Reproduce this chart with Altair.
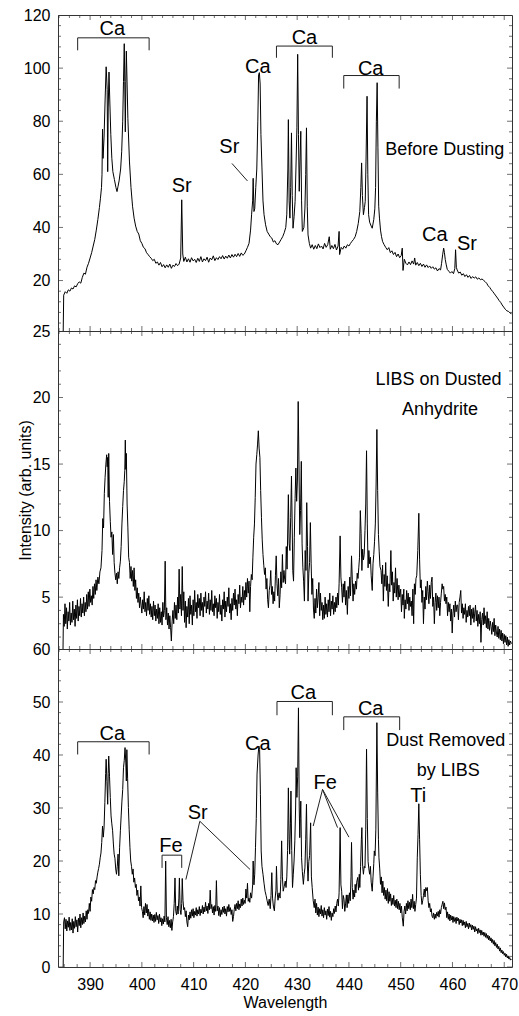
import altair as alt
import pandas as pd

FONT = "Liberation Sans"
AXC = "#333333"
W = 454
H_TOP, H_MID, H_BOT = 316, 318, 318
XDOM = [383.8, 471.5]

# ---------------- spectra (wavelength nm, intensity) ----------------
TOP = [
    (384.80, 0), (384.90, 14.5), (385.2, 15.8), (385.5, 15.2), (385.8, 16.5), (386.1, 16.0), (386.4, 17.2),
    (386.7, 16.8), (387.0, 18.0), (387.3, 17.6), (387.6, 18.8), (387.9, 19.5), (388.2, 19.0), (388.5, 21.2),
    (388.8, 22.8), (389.1, 22.4), (389.4, 25.0), (389.7, 26.5), (390.0, 28.5), (390.3, 30.5), (390.6, 33.0),
    (390.9, 35.5), (391.2, 39.0), (391.5, 43.0), (391.8, 47.5), (392.0, 51.0), (392.2, 55.0), (392.3, 60.0),
    (392.4, 77.0), (392.5, 66.0), (392.7, 74.0), (392.9, 88.0), (393.1, 100.5), (393.3, 92.0), (393.4, 61.0),
    (393.5, 85.0), (393.65, 98.5), (393.8, 88.0), (394.0, 75.0), (394.2, 66.0), (394.4, 61.0), (394.7, 58.0),
    (395.0, 55.0), (395.2, 53.5), (395.4, 55.5), (395.6, 57.5), (395.9, 62.0), (396.1, 68.5), (396.3, 80.0),
    (396.45, 95.0), (396.6, 109.2), (396.7, 95.0), (396.8, 76.0), (396.9, 95.0), (397.0, 106.4), (397.15, 94.0),
    (397.3, 81.0), (397.6, 65.0), (397.9, 55.0), (398.2, 48.0), (398.5, 43.5), (398.8, 40.5), (399.1, 38.5),
    (399.4, 37.5), (399.7, 35.0), (400.0, 34.0), (400.3, 32.5), (400.6, 32.0), (400.9, 30.5), (401.2, 29.8),
    (401.5, 29.0), (401.8, 28.4), (402.1, 27.5), (402.4, 28.0), (402.7, 26.5), (403.0, 27.0), (403.3, 25.8),
    (403.6, 26.8), (403.9, 25.2), (404.2, 26.0), (404.5, 24.8), (404.8, 25.9), (405.1, 25.0), (405.4, 26.2),
    (405.7, 24.6), (406.0, 25.8), (406.3, 25.3), (406.6, 26.4), (406.9, 25.6), (407.2, 26.2), (407.5, 28.5),
    (407.7, 50.4), (407.9, 30.0), (408.1, 27.2), (408.4, 28.8), (408.7, 27.0), (409.0, 28.2), (409.3, 26.9),
    (409.6, 28.6), (409.9, 27.4), (410.2, 28.0), (410.5, 26.8), (410.8, 28.4), (411.1, 27.2), (411.4, 29.0),
    (411.7, 27.0), (412.0, 28.2), (412.3, 27.5), (412.6, 28.8), (412.9, 26.9), (413.2, 28.5), (413.5, 27.8),
    (413.8, 29.3), (414.1, 27.5), (414.4, 28.6), (414.7, 27.9), (415.0, 29.0), (415.3, 28.2), (415.6, 29.4),
    (415.9, 28.1), (416.2, 29.2), (416.5, 28.4), (416.8, 29.6), (417.1, 28.5), (417.4, 29.8), (417.7, 28.8),
    (418.0, 29.9), (418.3, 29.0), (418.6, 30.2), (418.9, 29.1), (419.2, 30.4), (419.5, 29.5), (419.8, 30.0),
    (420.1, 31.2), (420.4, 32.5), (420.7, 34.0), (421.0, 39.0), (421.2, 45.0), (421.4, 50.0), (421.5, 58.5),
    (421.65, 46.0), (421.8, 47.0), (422.0, 55.0), (422.2, 62.0), (422.4, 80.0), (422.55, 97.6), (422.7, 98.3),
    (422.85, 94.0), (423.0, 75.0), (423.2, 62.4), (423.4, 50.0), (423.6, 44.8), (423.9, 41.0), (424.2, 38.5),
    (424.5, 37.5), (424.8, 36.5), (425.1, 36.0), (425.4, 34.5), (425.7, 35.0), (426.0, 33.8), (426.3, 33.5),
    (426.6, 34.5), (426.9, 35.5), (427.2, 36.5), (427.5, 38.0), (427.8, 40.0), (428.0, 45.0), (428.2, 62.0),
    (428.3, 80.6), (428.45, 50.0), (428.6, 43.5), (428.75, 55.0), (428.9, 75.6), (429.05, 52.0), (429.2, 39.7),
    (429.4, 44.0), (429.6, 49.8), (429.8, 65.0), (429.95, 77.5), (430.1, 105.2), (430.25, 75.0), (430.4, 53.6),
    (430.55, 65.0), (430.7, 76.2), (430.85, 50.0), (431.0, 38.5), (431.3, 40.0), (431.5, 47.3), (431.65, 60.0),
    (431.8, 77.5), (431.95, 48.0), (432.1, 37.2), (432.35, 34.0), (432.6, 32.2), (432.9, 33.5), (433.2, 31.8),
    (433.5, 33.2), (433.8, 32.0), (434.1, 33.8), (434.4, 32.4), (434.7, 33.0), (435.0, 31.9), (435.3, 34.0),
    (435.6, 32.5), (435.9, 33.5), (436.2, 36.5), (436.4, 31.8), (436.7, 33.2), (437.0, 32.0), (437.3, 33.6),
    (437.6, 31.5), (437.9, 33.0), (438.1, 38.5), (438.2, 29.8), (438.5, 32.5), (438.8, 31.8), (439.1, 33.0),
    (439.4, 32.2), (439.7, 33.5), (440.0, 33.0), (440.3, 34.0), (440.6, 34.8), (440.9, 35.5), (441.2, 36.5),
    (441.5, 38.5), (441.8, 41.5), (442.1, 46.0), (442.3, 55.0), (442.45, 64.3), (442.6, 52.0), (442.8, 44.8),
    (443.0, 47.5), (443.15, 49.8), (443.3, 65.0), (443.5, 89.4), (443.65, 60.0), (443.8, 44.8), (444.0, 42.0),
    (444.3, 40.5), (444.5, 39.7), (444.8, 43.0), (445.0, 47.0), (445.15, 55.0), (445.3, 80.0), (445.45, 94.5),
    (445.6, 70.0), (445.75, 48.0), (445.9, 43.5), (446.1, 39.0), (446.3, 36.5), (446.5, 34.7), (446.8, 33.5),
    (447.1, 32.5), (447.4, 31.6), (447.7, 32.4), (448.0, 30.5), (448.3, 31.2), (448.6, 29.8), (448.9, 30.6),
    (449.2, 29.0), (449.5, 30.0), (449.8, 28.6), (450.1, 29.4), (450.3, 32.2), (450.45, 23.8), (450.7, 28.0),
    (451.0, 26.5), (451.3, 25.9), (451.6, 27.0), (451.9, 26.0), (452.2, 27.4), (452.5, 26.2), (452.7, 28.5),
    (452.9, 25.8), (453.2, 26.8), (453.5, 25.6), (453.8, 26.5), (454.1, 25.3), (454.4, 26.2), (454.7, 25.0),
    (455.0, 25.9), (455.3, 24.9), (455.6, 25.5), (455.9, 24.6), (456.2, 25.2), (456.5, 24.3), (456.8, 24.8),
    (457.1, 23.6), (457.4, 24.5), (457.7, 24.0), (457.9, 26.5), (458.1, 29.7), (458.3, 32.2), (458.45, 30.5),
    (458.6, 28.0), (458.8, 25.9), (459.0, 24.2), (459.3, 23.5), (459.6, 22.8), (459.9, 23.4), (460.2, 22.6),
    (460.45, 24.5), (460.6, 31.6), (460.75, 25.0), (460.9, 24.0), (461.2, 22.8), (461.5, 23.2), (461.8, 22.0),
    (462.1, 22.6), (462.4, 21.5), (462.7, 22.2), (463.0, 21.2), (463.3, 21.9), (463.6, 20.8), (463.9, 21.5),
    (464.2, 20.9), (464.5, 21.4), (464.8, 20.5), (465.1, 21.0), (465.4, 20.3), (465.7, 20.6), (466.0, 20.1),
    (466.3, 19.6), (466.6, 19.0), (466.9, 18.0), (467.2, 17.4), (467.5, 16.5), (467.8, 15.8), (468.1, 15.0),
    (468.4, 14.2), (468.7, 13.4), (469.0, 12.5), (469.3, 11.8), (469.6, 10.8), (469.9, 10.0), (470.2, 9.2),
    (470.5, 8.6), (470.8, 8.4), (471.1, 7.8), (471.4, 7.5),
]

MID = [
    (384.75, 0.5), (384.85, 3.7), (385.0, 2.8), (385.15, 4.5), (385.3, 3.0), (385.45, 4.2), (385.6, 2.6),
    (385.75, 3.9), (385.9, 3.2), (386.05, 4.6), (386.2, 2.9), (386.35, 3.8), (386.5, 3.1), (386.65, 4.7),
    (386.8, 3.3), (386.95, 4.1), (387.1, 2.8), (387.25, 4.4), (387.4, 3.4), (387.55, 4.8), (387.7, 3.2),
    (387.85, 4.3), (388.0, 3.6), (388.15, 4.9), (388.3, 3.5), (388.45, 4.5), (388.6, 3.8), (388.75, 5.0),
    (388.9, 3.6), (389.05, 4.6), (389.2, 3.9), (389.35, 5.2), (389.5, 4.1), (389.65, 5.4), (389.8, 4.3),
    (389.95, 5.6), (390.1, 4.6), (390.25, 5.1), (390.4, 4.4), (390.55, 5.8), (390.7, 4.9), (390.85, 6.0),
    (391.0, 5.2), (391.15, 6.3), (391.3, 5.5), (391.5, 6.5), (391.7, 6.0), (391.9, 6.9), (392.1, 7.2),
    (392.3, 8.5), (392.45, 10.9), (392.6, 10.2), (392.75, 12.8), (392.9, 14.0), (393.05, 15.0), (393.2, 15.7),
    (393.3, 14.8), (393.4, 15.5), (393.5, 12.5), (393.6, 15.8), (393.75, 12.2), (393.9, 10.7), (394.05, 9.5),
    (394.2, 9.9), (394.35, 8.2), (394.5, 9.7), (394.65, 7.6), (394.8, 6.8), (394.95, 6.3), (395.1, 6.8),
    (395.25, 6.0), (395.4, 6.9), (395.55, 6.4), (395.7, 7.2), (395.85, 7.7), (396.0, 8.8), (396.15, 10.5),
    (396.3, 11.8), (396.45, 13.0), (396.6, 13.7), (396.7, 14.5), (396.8, 16.8), (396.9, 14.6), (397.0, 15.8),
    (397.15, 12.0), (397.3, 10.2), (397.45, 8.0), (397.6, 7.6), (397.75, 6.4), (397.9, 7.3), (398.05, 6.2),
    (398.2, 7.0), (398.35, 5.8), (398.5, 7.2), (398.65, 5.5), (398.8, 6.3), (398.95, 4.9), (399.1, 5.7),
    (399.25, 4.6), (399.4, 5.3), (399.55, 4.2), (399.7, 5.0), (399.85, 4.4), (400.0, 3.8), (400.15, 4.8),
    (400.3, 4.1), (400.45, 5.4), (400.6, 3.9), (400.75, 4.6), (400.9, 3.6), (401.05, 4.9), (401.2, 4.0),
    (401.35, 5.1), (401.5, 3.7), (401.65, 4.5), (401.8, 3.5), (401.95, 4.3), (402.1, 3.3), (402.25, 4.7),
    (402.4, 3.6), (402.55, 4.4), (402.7, 3.2), (402.85, 4.1), (403.0, 3.4), (403.15, 4.5), (403.3, 3.0),
    (403.45, 4.2), (403.6, 3.1), (403.75, 3.9), (403.9, 2.9), (404.05, 4.6), (404.2, 3.5), (404.35, 4.0),
    (404.5, 7.7), (404.65, 3.3), (404.8, 4.2), (404.95, 2.9), (405.1, 3.8), (405.25, 2.6), (405.4, 3.6),
    (405.55, 2.7), (405.7, 1.7), (405.85, 3.2), (406.0, 4.0), (406.15, 3.0), (406.3, 4.6), (406.45, 3.4),
    (406.6, 4.4), (406.75, 3.3), (406.9, 5.0), (407.05, 3.8), (407.2, 7.1), (407.35, 4.1), (407.5, 5.2),
    (407.65, 3.6), (407.8, 7.3), (407.95, 4.0), (408.1, 5.4), (408.25, 3.1), (408.4, 4.7), (408.55, 2.7),
    (408.7, 4.3), (408.85, 3.5), (409.0, 4.9), (409.15, 3.0), (409.3, 5.1), (409.45, 3.7), (409.6, 4.4),
    (409.75, 2.9), (409.9, 4.8), (410.05, 3.6), (410.2, 5.5), (410.35, 3.9), (410.5, 4.6), (410.65, 3.4),
    (410.8, 5.2), (410.95, 4.2), (411.1, 4.9), (411.25, 3.6), (411.4, 5.3), (411.55, 4.0), (411.7, 4.6),
    (411.85, 3.5), (412.0, 5.0), (412.15, 4.3), (412.3, 5.4), (412.45, 3.8), (412.6, 4.7), (412.75, 4.1),
    (412.9, 5.3), (413.05, 3.7), (413.2, 4.8), (413.35, 4.0), (413.5, 5.5), (413.65, 3.9), (413.8, 4.5),
    (413.95, 3.6), (414.1, 5.1), (414.25, 4.2), (414.4, 4.9), (414.55, 3.4), (414.7, 4.6), (414.85, 3.9),
    (415.0, 5.2), (415.15, 3.7), (415.3, 4.4), (415.45, 3.2), (415.6, 4.8), (415.75, 4.1), (415.9, 5.4),
    (416.05, 3.5), (416.2, 4.7), (416.35, 3.9), (416.5, 5.0), (416.65, 4.3), (416.8, 5.7), (416.95, 3.8),
    (417.1, 4.5), (417.25, 3.3), (417.4, 4.9), (417.55, 4.0), (417.7, 5.3), (417.85, 4.4), (418.0, 5.6),
    (418.15, 4.1), (418.3, 4.8), (418.45, 3.6), (418.6, 5.2), (418.75, 4.5), (418.9, 5.9), (419.05, 4.2),
    (419.2, 5.0), (419.35, 4.6), (419.5, 5.8), (419.65, 4.4), (419.8, 5.5), (419.95, 4.8), (420.1, 6.1),
    (420.25, 5.0), (420.4, 6.4), (420.55, 5.3), (420.7, 6.2), (420.85, 3.9), (421.0, 5.8), (421.15, 6.7),
    (421.3, 6.3), (421.45, 8.0), (421.6, 9.5), (421.75, 10.5), (421.9, 12.5), (422.05, 15.0), (422.2, 15.7),
    (422.35, 16.5), (422.5, 17.5), (422.65, 16.2), (422.8, 15.5), (422.95, 13.0), (423.1, 11.0), (423.25, 9.3),
    (423.4, 8.2), (423.55, 7.4), (423.7, 6.7), (423.85, 7.2), (424.0, 5.6), (424.15, 6.4), (424.3, 4.8),
    (424.45, 4.2), (424.6, 5.5), (424.75, 5.9), (424.9, 7.0), (425.05, 5.2), (425.2, 5.8), (425.35, 4.5),
    (425.5, 5.4), (425.65, 4.7), (425.8, 6.6), (425.95, 8.1), (426.1, 6.0), (426.25, 5.1), (426.4, 6.4),
    (426.55, 4.2), (426.7, 5.2), (426.85, 6.9), (427.0, 5.7), (427.15, 8.2), (427.3, 6.1), (427.45, 7.0),
    (427.6, 6.3), (427.75, 6.0), (427.9, 8.8), (428.05, 7.1), (428.2, 10.5), (428.3, 12.7), (428.45, 9.0),
    (428.6, 8.5), (428.75, 11.0), (428.9, 14.1), (429.05, 10.2), (429.15, 7.0), (429.3, 6.2), (429.45, 9.5),
    (429.6, 12.4), (429.75, 14.7), (429.9, 12.2), (430.05, 13.8), (430.2, 19.7), (430.35, 15.0), (430.5, 9.7),
    (430.65, 11.5), (430.8, 15.2), (430.95, 9.0), (431.1, 7.2), (431.25, 6.2), (431.4, 4.7), (431.55, 8.5),
    (431.7, 7.0), (431.85, 12.1), (432.0, 8.8), (432.1, 4.7), (432.25, 6.8), (432.4, 7.6), (432.55, 10.6),
    (432.7, 7.5), (432.85, 5.2), (433.0, 6.4), (433.15, 4.1), (433.3, 3.4), (433.45, 4.9), (433.6, 3.8),
    (433.75, 5.6), (433.9, 4.2), (434.05, 5.0), (434.2, 6.1), (434.35, 3.6), (434.5, 5.3), (434.65, 4.0),
    (434.8, 4.6), (434.95, 3.3), (435.1, 4.4), (435.25, 3.4), (435.4, 5.0), (435.55, 3.7), (435.7, 4.5),
    (435.85, 3.5), (436.0, 4.8), (436.15, 3.9), (436.3, 5.3), (436.45, 3.6), (436.6, 4.7), (436.75, 4.1),
    (436.9, 5.1), (437.05, 3.7), (437.2, 4.6), (437.35, 3.9), (437.5, 5.0), (437.65, 4.2), (437.8, 5.3),
    (437.95, 4.4), (438.1, 6.0), (438.3, 9.6), (438.45, 6.5), (438.6, 5.7), (438.75, 4.6), (438.9, 6.0),
    (439.05, 5.0), (439.2, 6.2), (439.35, 4.4), (439.5, 5.5), (439.7, 3.7), (439.85, 5.8), (440.0, 4.9),
    (440.15, 6.5), (440.3, 5.1), (440.5, 8.1), (440.65, 6.3), (440.8, 4.7), (440.95, 6.0), (441.1, 5.2),
    (441.3, 6.2), (441.45, 5.6), (441.6, 6.8), (441.75, 6.4), (441.9, 7.2), (442.05, 8.0), (442.2, 11.5),
    (442.35, 9.8), (442.5, 7.0), (442.65, 8.6), (442.8, 7.8), (442.95, 8.2), (443.1, 10.0), (443.25, 12.0),
    (443.4, 16.0), (443.55, 10.5), (443.7, 7.2), (443.85, 8.5), (444.0, 7.5), (444.15, 8.0), (444.3, 6.6),
    (444.5, 5.5), (444.65, 7.5), (444.8, 8.2), (444.95, 9.2), (445.1, 10.5), (445.25, 13.5), (445.4, 17.6),
    (445.55, 13.0), (445.7, 9.7), (445.85, 8.4), (446.0, 7.3), (446.2, 7.0), (446.35, 6.0), (446.5, 7.4),
    (446.65, 4.7), (446.8, 6.7), (446.95, 5.8), (447.1, 7.6), (447.25, 5.5), (447.4, 6.6), (447.6, 4.3),
    (447.75, 6.0), (447.9, 5.4), (448.1, 8.5), (448.25, 5.9), (448.4, 6.9), (448.55, 4.7), (448.7, 6.1),
    (448.85, 5.3), (449.0, 7.2), (449.15, 5.0), (449.3, 6.4), (449.5, 4.8), (449.65, 5.9), (449.8, 5.0),
    (450.0, 5.6), (450.15, 3.9), (450.3, 5.2), (450.45, 4.4), (450.6, 5.6), (450.7, 3.4), (450.85, 4.8),
    (451.0, 4.1), (451.15, 5.5), (451.3, 4.5), (451.45, 5.3), (451.6, 4.0), (451.75, 5.0), (451.9, 4.3),
    (452.05, 4.7), (452.2, 3.6), (452.35, 5.6), (452.5, 3.0), (452.65, 6.0), (452.8, 5.2), (452.95, 6.4),
    (453.1, 6.6), (453.3, 8.5), (453.5, 11.3), (453.65, 7.8), (453.8, 5.7), (453.95, 6.3), (454.1, 4.6),
    (454.25, 5.5), (454.4, 3.0), (454.55, 5.0), (454.7, 4.1), (454.85, 5.8), (455.0, 4.8), (455.15, 6.2),
    (455.3, 5.4), (455.45, 4.5), (455.6, 5.9), (455.75, 4.9), (455.9, 6.1), (456.05, 6.5), (456.2, 4.3),
    (456.35, 5.0), (456.5, 3.0), (456.65, 4.6), (456.8, 5.3), (456.95, 4.0), (457.1, 5.1), (457.25, 4.2),
    (457.4, 5.0), (457.55, 3.6), (457.7, 4.6), (457.85, 5.3), (458.0, 6.0), (458.15, 5.6), (458.3, 5.8),
    (458.45, 4.7), (458.6, 5.2), (458.75, 4.5), (458.9, 5.0), (459.05, 3.6), (459.2, 4.6), (459.35, 3.9),
    (459.5, 4.5), (459.65, 3.2), (459.8, 4.1), (459.95, 2.3), (460.1, 3.8), (460.25, 4.4), (460.4, 3.5),
    (460.55, 4.7), (460.7, 3.9), (460.85, 4.4), (461.0, 4.4), (461.15, 3.3), (461.3, 4.6), (461.45, 5.0),
    (461.6, 5.5), (461.75, 3.8), (461.9, 4.5), (462.05, 3.4), (462.2, 4.2), (462.35, 3.7), (462.5, 4.5),
    (462.65, 3.1), (462.8, 4.0), (462.95, 3.5), (463.1, 4.3), (463.25, 3.6), (463.4, 4.4), (463.55, 2.9),
    (463.7, 4.1), (463.85, 3.4), (464.0, 4.2), (464.15, 3.1), (464.3, 3.8), (464.45, 4.4), (464.6, 3.2),
    (464.75, 4.0), (464.9, 2.8), (465.05, 3.7), (465.2, 3.0), (465.35, 3.9), (465.5, 1.6), (465.65, 3.3),
    (465.8, 3.8), (465.95, 2.9), (466.1, 4.2), (466.25, 3.0), (466.4, 3.6), (466.55, 2.7), (466.7, 3.9),
    (466.85, 2.6), (467.0, 3.4), (467.15, 2.5), (467.3, 3.2), (467.45, 2.8), (467.6, 2.2), (467.75, 3.1),
    (467.9, 2.4), (468.05, 3.4), (468.2, 2.1), (468.35, 2.9), (468.5, 2.3), (468.65, 2.0), (468.8, 2.8),
    (468.95, 1.9), (469.1, 2.6), (469.25, 1.8), (469.4, 2.5), (469.55, 1.7), (469.7, 2.3), (469.85, 1.5),
    (470.0, 2.2), (470.15, 1.6), (470.3, 2.1), (470.45, 1.4), (470.6, 2.0), (470.75, 1.3), (470.9, 1.8),
    (471.05, 1.4), (471.2, 1.7), (471.4, 1.5),
]

BOT = [
    (384.8, 0), (384.9, 8.5), (385.05, 9.3), (385.2, 7.2), (385.35, 9.0), (385.5, 6.8), (385.65, 8.7),
    (385.8, 7.5), (385.95, 9.4), (386.1, 6.9), (386.25, 8.4), (386.4, 7.0), (386.55, 9.1), (386.7, 6.4),
    (386.85, 8.6), (387.0, 7.3), (387.15, 9.5), (387.3, 7.6), (387.45, 8.9), (387.6, 6.6), (387.75, 9.2),
    (387.9, 7.8), (388.05, 10.0), (388.2, 7.4), (388.35, 9.3), (388.5, 8.0), (388.65, 10.2), (388.8, 8.2),
    (388.95, 9.6), (389.1, 8.5), (389.25, 10.6), (389.4, 9.0), (389.55, 10.8), (389.7, 10.1), (389.85, 12.0),
    (390.0, 10.5), (390.15, 13.2), (390.3, 12.4), (390.45, 14.6), (390.6, 13.8), (390.75, 15.0), (390.9, 14.6),
    (391.05, 16.3), (391.2, 15.8), (391.35, 17.0), (391.5, 17.9), (391.65, 18.6), (391.8, 19.4), (391.95, 20.6),
    (392.1, 21.5), (392.25, 23.5), (392.4, 26.6), (392.55, 24.5), (392.7, 26.4), (392.85, 31.0), (393.0, 36.5),
    (393.1, 39.2), (393.25, 35.0), (393.4, 30.7), (393.5, 36.5), (393.6, 39.8), (393.75, 36.0), (393.9, 32.0),
    (394.05, 28.5), (394.2, 27.0), (394.35, 25.7), (394.5, 23.2), (394.65, 21.3), (394.8, 20.5), (394.95, 18.5),
    (395.1, 17.5), (395.25, 19.0), (395.4, 21.3), (395.55, 17.2), (395.7, 22.5), (395.85, 25.7), (396.0, 28.5),
    (396.15, 31.3), (396.3, 33.5), (396.45, 37.6), (396.6, 39.0), (396.75, 41.4), (396.9, 38.5), (397.0, 35.1),
    (397.1, 41.0), (397.25, 35.5), (397.4, 30.1), (397.55, 26.0), (397.7, 22.5), (397.85, 20.0), (398.0, 19.0),
    (398.15, 17.5), (398.3, 18.5), (398.45, 16.0), (398.6, 16.8), (398.75, 15.0), (398.9, 15.6), (399.05, 13.5),
    (399.2, 14.5), (399.35, 12.5), (399.5, 13.2), (399.65, 11.5), (399.8, 15.3), (399.95, 11.2), (400.1, 10.5),
    (400.25, 9.3), (400.4, 11.4), (400.55, 9.8), (400.7, 12.0), (400.85, 10.2), (401.0, 11.8), (401.15, 9.6),
    (401.3, 10.9), (401.45, 9.0), (401.6, 10.4), (401.75, 8.8), (401.9, 10.0), (402.05, 8.7), (402.2, 9.8),
    (402.35, 8.4), (402.5, 9.9), (402.65, 8.6), (402.8, 10.3), (402.95, 8.9), (403.1, 9.7), (403.25, 8.2),
    (403.4, 10.0), (403.55, 8.5), (403.7, 9.3), (403.85, 7.8), (404.0, 9.1), (404.15, 8.1), (404.3, 9.6),
    (404.45, 8.5), (404.6, 20.0), (404.75, 9.3), (404.9, 8.0), (405.05, 9.5), (405.2, 7.6), (405.35, 8.8),
    (405.5, 7.4), (405.65, 9.0), (405.8, 6.9), (405.95, 8.5), (406.1, 9.5), (406.25, 12.0), (406.4, 16.8),
    (406.55, 10.5), (406.7, 9.8), (406.85, 11.5), (407.0, 10.0), (407.15, 13.0), (407.25, 16.8), (407.4, 10.8),
    (407.55, 9.9), (407.7, 12.0), (407.8, 16.7), (407.95, 12.5), (408.1, 10.8), (408.25, 11.2), (408.4, 9.5),
    (408.55, 10.6), (408.7, 8.5), (408.85, 7.6), (409.0, 9.8), (409.15, 8.9), (409.3, 10.4), (409.45, 9.2),
    (409.6, 10.8), (409.75, 9.6), (409.9, 11.0), (410.05, 9.3), (410.2, 10.5), (410.35, 9.8), (410.5, 11.2),
    (410.65, 9.6), (410.8, 10.8), (410.95, 10.0), (411.1, 11.4), (411.25, 9.7), (411.4, 10.9), (411.55, 10.2),
    (411.7, 11.6), (411.85, 10.0), (412.0, 11.3), (412.15, 10.4), (412.3, 12.2), (412.45, 10.6), (412.6, 11.5),
    (412.75, 10.1), (412.9, 12.0), (413.05, 10.8), (413.2, 14.5), (413.35, 11.0), (413.5, 11.8), (413.65, 10.2),
    (413.8, 11.4), (413.95, 9.8), (414.1, 11.6), (414.25, 10.5), (414.4, 16.3), (414.55, 10.6), (414.7, 11.5),
    (414.85, 9.7), (415.0, 11.2), (415.15, 9.5), (415.3, 10.8), (415.45, 9.9), (415.6, 11.3), (415.75, 10.3),
    (415.9, 11.5), (416.05, 10.0), (416.2, 11.0), (416.35, 9.6), (416.5, 11.4), (416.65, 10.4), (416.8, 11.8),
    (416.95, 10.5), (417.1, 11.2), (417.25, 9.9), (417.4, 10.8), (417.55, 8.6), (417.7, 9.5), (417.85, 10.9),
    (418.0, 11.8), (418.15, 10.6), (418.3, 12.0), (418.45, 11.0), (418.6, 12.5), (418.75, 10.8), (418.9, 11.9),
    (419.05, 11.2), (419.2, 12.8), (419.35, 11.5), (419.5, 13.0), (419.65, 11.8), (419.8, 12.6), (419.95, 12.0),
    (420.1, 14.7), (420.25, 13.0), (420.4, 15.8), (420.55, 12.4), (420.7, 13.0), (420.85, 12.2), (421.0, 14.0),
    (421.2, 13.0), (421.4, 15.5), (421.5, 20.0), (421.65, 15.5), (421.8, 17.5), (421.95, 22.5), (422.1, 28.0),
    (422.25, 36.4), (422.45, 40.0), (422.6, 41.7), (422.75, 41.0), (422.9, 32.6), (423.05, 21.9), (423.2, 19.0),
    (423.4, 17.5), (423.6, 15.8), (423.8, 14.3), (424.0, 13.5), (424.2, 12.5), (424.4, 11.6), (424.6, 12.8),
    (424.8, 11.0), (424.95, 13.5), (425.1, 17.8), (425.25, 13.0), (425.4, 11.5), (425.6, 10.6), (425.75, 13.0),
    (425.9, 14.5), (426.0, 19.0), (426.15, 14.0), (426.3, 12.6), (426.5, 14.0), (426.7, 13.0), (426.85, 16.5),
    (427.0, 23.8), (427.15, 17.0), (427.3, 14.3), (427.5, 15.2), (427.7, 16.2), (427.85, 15.0), (428.0, 17.0),
    (428.15, 22.0), (428.3, 33.8), (428.45, 24.0), (428.55, 21.3), (428.7, 27.0), (428.8, 33.2), (428.95, 22.0),
    (429.1, 15.0), (429.25, 17.5), (429.4, 20.0), (429.55, 23.8), (429.7, 30.0), (429.8, 37.6), (429.95, 32.0),
    (430.1, 36.0), (430.25, 48.9), (430.4, 30.0), (430.5, 24.4), (430.6, 28.0), (430.7, 31.3), (430.85, 20.6),
    (431.0, 18.0), (431.2, 15.6), (431.35, 17.5), (431.5, 18.7), (431.65, 24.0), (431.8, 30.7), (431.95, 20.0),
    (432.1, 16.2), (432.25, 19.9), (432.4, 21.0), (432.6, 27.2), (432.75, 17.0), (432.9, 15.0), (433.1, 12.5),
    (433.3, 11.2), (433.45, 12.8), (433.6, 10.2), (433.75, 12.0), (433.9, 9.8), (434.05, 11.3), (434.2, 9.5),
    (434.35, 11.0), (434.5, 10.0), (434.65, 11.6), (434.8, 9.6), (434.95, 10.8), (435.1, 9.3), (435.25, 11.2),
    (435.4, 9.8), (435.55, 10.6), (435.7, 9.0), (435.85, 10.9), (436.0, 9.7), (436.15, 11.4), (436.3, 9.4),
    (436.45, 10.5), (436.6, 8.8), (436.75, 10.2), (436.9, 9.5), (437.05, 11.0), (437.2, 10.1), (437.35, 11.5),
    (437.5, 10.4), (437.65, 12.0), (437.8, 12.8), (437.95, 11.5), (438.1, 14.0), (438.3, 26.3), (438.45, 15.5),
    (438.6, 14.3), (438.75, 11.0), (438.9, 13.5), (439.05, 12.8), (439.2, 10.5), (439.35, 11.9), (439.5, 13.6),
    (439.65, 11.2), (439.8, 13.6), (439.95, 12.0), (440.1, 14.0), (440.25, 12.5), (440.4, 17.0), (440.5, 23.5),
    (440.65, 15.0), (440.8, 12.8), (440.95, 14.5), (441.1, 13.2), (441.2, 15.6), (441.35, 14.0), (441.5, 16.0),
    (441.7, 16.9), (441.85, 14.5), (442.0, 17.5), (442.1, 15.0), (442.25, 19.0), (442.4, 24.0), (442.5, 26.3),
    (442.65, 19.0), (442.8, 17.5), (442.95, 19.0), (443.1, 18.7), (443.25, 26.0), (443.4, 41.1), (443.55, 28.0),
    (443.7, 19.9), (443.85, 18.5), (444.0, 17.5), (444.15, 19.0), (444.3, 16.0), (444.5, 14.3), (444.65, 17.0),
    (444.8, 19.5), (444.9, 21.9), (445.05, 21.0), (445.2, 26.0), (445.4, 46.1), (445.55, 33.0), (445.7, 24.0),
    (445.8, 20.6), (445.95, 18.5), (446.1, 15.6), (446.25, 17.0), (446.4, 14.0), (446.55, 16.2), (446.7, 13.5),
    (446.85, 15.0), (447.0, 12.8), (447.15, 14.5), (447.3, 12.5), (447.45, 14.8), (447.6, 12.0), (447.75, 14.2),
    (447.9, 12.4), (448.05, 13.8), (448.2, 11.6), (448.35, 13.0), (448.5, 11.8), (448.65, 13.5), (448.8, 11.5),
    (448.95, 12.6), (449.1, 11.2), (449.25, 12.8), (449.4, 11.0), (449.55, 12.4), (449.7, 10.8), (449.85, 12.0),
    (450.0, 10.2), (450.15, 11.5), (450.3, 9.4), (450.5, 7.7), (450.65, 10.5), (450.8, 11.5), (450.95, 10.0),
    (451.1, 12.0), (451.25, 10.6), (451.4, 12.5), (451.55, 11.0), (451.7, 12.2), (451.85, 10.8), (452.0, 12.8),
    (452.15, 11.2), (452.3, 13.7), (452.45, 11.0), (452.6, 12.4), (452.75, 10.5), (452.9, 11.8), (453.05, 13.0),
    (453.2, 20.6), (453.35, 25.0), (453.5, 30.8), (453.65, 24.0), (453.8, 17.5), (453.95, 13.5), (454.1, 11.8),
    (454.25, 12.5), (454.4, 13.5), (454.55, 14.7), (454.7, 13.2), (454.85, 15.0), (455.0, 14.4), (455.15, 15.0),
    (455.3, 12.5), (455.45, 11.2), (455.6, 12.0), (455.75, 10.4), (455.9, 11.0), (456.05, 9.6), (456.2, 9.3),
    (456.35, 10.2), (456.5, 9.0), (456.65, 10.0), (456.8, 9.2), (456.95, 10.3), (457.1, 9.6), (457.25, 10.5),
    (457.4, 9.4), (457.55, 10.8), (457.7, 10.0), (457.85, 11.2), (458.0, 11.8), (458.15, 12.4), (458.3, 11.0),
    (458.45, 12.1), (458.6, 10.8), (458.75, 11.3), (458.9, 9.3), (459.05, 10.4), (459.2, 9.0), (459.35, 10.0),
    (459.5, 8.7), (459.65, 9.8), (459.8, 8.9), (459.95, 9.6), (460.1, 8.4), (460.25, 9.5), (460.4, 8.6),
    (460.55, 9.3), (460.7, 8.2), (460.85, 9.4), (461.0, 8.7), (461.15, 9.2), (461.3, 8.0), (461.45, 9.0),
    (461.6, 8.3), (461.75, 8.9), (461.9, 7.8), (462.05, 8.8), (462.2, 7.9), (462.35, 8.5), (462.5, 7.4),
    (462.65, 8.6), (462.8, 7.6), (462.95, 8.2), (463.1, 7.2), (463.25, 8.3), (463.4, 7.5), (463.55, 8.0),
    (463.7, 7.0), (463.85, 7.9), (464.0, 7.1), (464.15, 7.7), (464.3, 6.6), (464.45, 7.6), (464.6, 6.8),
    (464.75, 7.2), (464.9, 6.3), (465.05, 7.3), (465.2, 6.5), (465.35, 7.0), (465.5, 6.0), (465.65, 6.9),
    (465.8, 6.1), (465.95, 6.6), (466.1, 5.8), (466.25, 6.5), (466.4, 5.6), (466.55, 6.3), (466.7, 5.4),
    (466.85, 6.0), (467.0, 5.1), (467.15, 5.8), (467.3, 4.9), (467.45, 5.5), (467.6, 4.6), (467.75, 5.2),
    (467.9, 4.3), (468.05, 5.0), (468.2, 4.0), (468.35, 4.6), (468.5, 3.7), (468.65, 4.3), (468.8, 3.4),
    (468.95, 3.9), (469.1, 3.0), (469.25, 3.6), (469.4, 2.7), (469.55, 3.2), (469.7, 2.5), (469.85, 2.9),
    (470.0, 2.2), (470.15, 2.6), (470.3, 1.9), (470.45, 2.4), (470.6, 1.7), (470.75, 2.1), (470.9, 1.5),
    (471.05, 1.8), (471.2, 1.3), (471.4, 1.5),
]

# ---------------- axis values ----------------
X_LABELS = [390, 400, 410, 420, 430, 440, 450, 460, 470]
X_MINOR_2 = [v for v in range(384, 471, 2) if v % 10 != 0]
X_MINOR_25 = [v / 10 for v in range(3850, 4710, 25) if v % 100 != 0]

TOP_Y_MAJOR = [20, 40, 60, 80, 100, 120]
TOP_Y_MINOR = [v for v in range(4, 120, 4) if v % 20 != 0]
MID_Y_MAJOR = [5, 10, 15, 20, 25]
MID_Y_MINOR = [v for v in range(2, 25) if v % 5 != 0]
BOT_Y_MAJOR = [0, 10, 20, 30, 40, 50, 60]
BOT_Y_MINOR = [v for v in range(2, 60, 2) if v % 10 != 0]

# ---------------- annotations ----------------
# brackets: (x_left, x_right, y_bar, y_leg_end)
TOP_BRACKETS = [(387.6, 401.4, 111.4, 106.7), (426.0, 436.8, 108.3, 103.9), (439.0, 449.7, 97.2, 92.3)]
TOP_LEADERS = [(417.4, 64.1, 420.4, 57.5)]
TOP_ELEMENTS = [("Ca", 394.3, 114.8), ("Sr", 407.7, 55.7), ("Sr", 416.9, 70.3), ("Ca", 422.4, 100.5),
                ("Ca", 431.4, 111.4), ("Ca", 444.2, 99.7), ("Ca", 456.6, 37.0), ("Sr", 462.8, 33.8)]
TOP_NOTES = [("Before Dusting", 458.5, 69.3)]

MID_NOTES = [("LIBS on Dusted", 457.3, 21.3), ("Anhydrite", 457.6, 19.1)]

BOT_BRACKETS = [(387.6, 401.4, 42.5, 40.1), (403.9, 407.7, 21.1, 18.7),
                (426.1, 436.8, 50.1, 47.5), (439.0, 449.8, 47.2, 44.7)]
BOT_LEADERS = [(411.2, 27.5, 408.5, 16.5), (411.2, 27.5, 420.9, 18.4),
               (434.9, 33.5, 433.1, 26.6), (434.9, 33.5, 437.8, 26.3), (434.9, 33.5, 440.0, 24.5)]
BOT_ELEMENTS = [("Ca", 394.3, 43.9), ("Fe", 405.6, 22.8), ("Sr", 410.8, 29.1), ("Ca", 422.4, 42.0),
                ("Ca", 431.2, 51.7), ("Ca", 444.2, 48.6), ("Fe", 435.4, 34.8), ("Ti", 453.4, 32.3)]
BOT_NOTES = [("Dust Removed", 458.7, 42.6), ("by LIBS", 459.2, 36.9)]

XS = alt.Scale(domain=XDOM, nice=False, zero=False)


def segments(brackets, leaders):
    rows = []
    for x1, x2, y, yl in brackets:
        rows.append(dict(x=x1, y=y, x2=x2, y2=y))
        rows.append(dict(x=x1, y=y, x2=x1, y2=yl))
        rows.append(dict(x=x2, y=y, x2=x2, y2=yl))
    for x1, y1, x2, y2 in leaders:
        rows.append(dict(x=x1, y=y1, x2=x2, y2=y2))
    return pd.DataFrame(rows)


def ticks_df(major, minor):
    rows = [dict(pos=v, sz=10) for v in major] + [dict(pos=v, sz=6) for v in minor]
    return pd.DataFrame(rows)


def panel(data, ydom, h, ymaj, ymin, bottom_minor, brackets, leaders, elements, notes,
          show_x=False, ytitle=None):
    ys = alt.Scale(domain=ydom, nice=False, zero=False)
    df = pd.DataFrame(data, columns=["wl", "v"])

    if show_x:
        xaxis = alt.Axis(values=X_LABELS, title="Wavelength", ticks=False, domain=False, grid=False,
                         labelFlush=False, labelFontSize=16, titleFontSize=16, labelFont=FONT,
                         titleFont=FONT, labelColor="black", titleColor="black", titleFontWeight="normal",
                         labelPadding=9, titlePadding=2, format="d")
    else:
        xaxis = None

    yargs = dict(values=ymaj, ticks=False, domain=False, grid=False, labelFlush=False,
                 labelFontSize=16, labelFont=FONT, labelColor="black", labelPadding=8, format="d",
                 labelOverlap=False)
    if ytitle:
        yargs.update(title=ytitle, titleFontSize=16, titleFont=FONT, titleColor="black",
                     titleFontWeight="normal", titleX=-33, titleY=h / 2, titleBaseline="middle",
                     titleAlign="center", titleAngle=270)
    else:
        yargs.update(title=None)
    yaxis = alt.Axis(**yargs)

    def X(field):
        return alt.X(field, scale=XS, axis=xaxis)

    def Y(field):
        return alt.Y(field, scale=ys, axis=yaxis)

    line = alt.Chart(df).mark_line(color="black", strokeWidth=1, clip=True).encode(
        x=X("wl:Q"), y=Y("v:Q"), order=alt.Order("wl:Q"),
    )

    layers = [line]

    xt_top = ticks_df(X_LABELS, X_MINOR_2)
    xt_bot = ticks_df(X_LABELS, bottom_minor)
    yt = ticks_df(ymaj, ymin)

    for tdf, edge in ((xt_top, 0), (xt_bot, h)):
        layers.append(
            alt.Chart(tdf).mark_tick(orient="vertical", thickness=1, color=AXC, clip=True).encode(
                x=X("pos:Q"),
                y=alt.value(edge),
                size=alt.Size("sz:Q", scale=None, legend=None),
            )
        )
    for edge in (0, W):
        layers.append(
            alt.Chart(yt).mark_tick(orient="horizontal", thickness=1, color=AXC, clip=True).encode(
                y=Y("pos:Q"),
                x=alt.value(edge),
                size=alt.Size("sz:Q", scale=None, legend=None),
            )
        )

    if brackets or leaders:
        seg = segments(brackets, leaders)
        layers.append(
            alt.Chart(seg).mark_rule(color="#222222", strokeWidth=1).encode(
                x=X("x:Q"), y=Y("y:Q"), x2="x2:Q", y2="y2:Q",
            )
        )
    if elements:
        edf = pd.DataFrame(elements, columns=["t", "x", "y"])
        layers.append(
            alt.Chart(edf).mark_text(font=FONT, fontSize=20, color="black", baseline="middle",
                                     align="center").encode(
                x=X("x:Q"), y=Y("y:Q"), text="t:N",
            )
        )
    if notes:
        ndf = pd.DataFrame(notes, columns=["t", "x", "y"])
        layers.append(
            alt.Chart(ndf).mark_text(font=FONT, fontSize=18, color="black", baseline="middle",
                                     align="center").encode(
                x=X("x:Q"), y=Y("y:Q"), text="t:N",
            )
        )

    return alt.layer(*layers).properties(width=W, height=h)


p_top = panel(TOP, [1, 120], H_TOP, TOP_Y_MAJOR, TOP_Y_MINOR, X_MINOR_2,
              TOP_BRACKETS, TOP_LEADERS, TOP_ELEMENTS, TOP_NOTES)
p_mid = panel(MID, [1.1, 25], H_MID, MID_Y_MAJOR, MID_Y_MINOR, X_MINOR_2,
              [], [], [], MID_NOTES, ytitle="Intensity (arb. units)")
p_bot = panel(BOT, [0, 60], H_BOT, BOT_Y_MAJOR, BOT_Y_MINOR, X_MINOR_25,
              BOT_BRACKETS, BOT_LEADERS, BOT_ELEMENTS, BOT_NOTES, show_x=True)

chart = (
    alt.vconcat(p_top, p_mid, p_bot, spacing=0, bounds="flush")
    .properties(padding={"left": 16, "top": 6, "right": 0, "bottom": 4}, background="white")
    .configure_view(stroke=AXC, strokeWidth=1)
    .configure_concat(spacing=0)
)

chart.save("out.html", embed_options={"renderer": "svg", "actions": False})
